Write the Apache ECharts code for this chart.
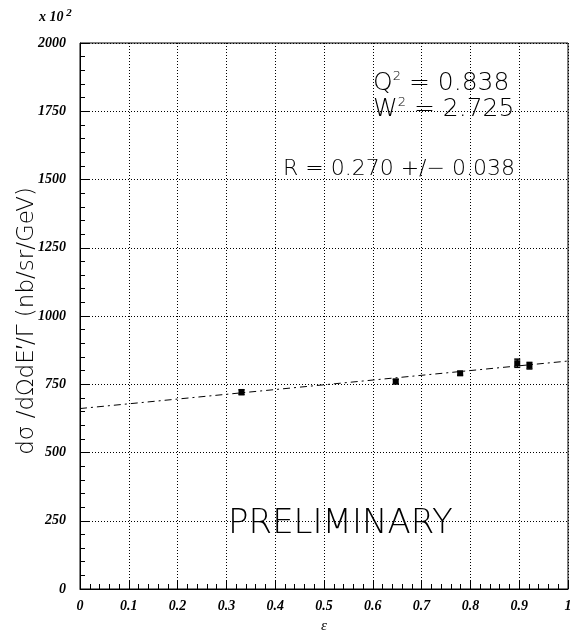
<!DOCTYPE html>
<html>
<head>
<meta charset="utf-8">
<script src="https://cdn.jsdelivr.net/npm/echarts@6/dist/echarts.min.js"></script>
<style>
  html, body { margin: 0; padding: 0; background: #fff; }
  #chart { width: 575px; height: 639px; }
</style>
</head>
<body>
<div id="chart"></div>
<script>
// measured points (epsilon, cross section in units of 10^2 nb/sr/GeV)
const epsilonValues = [0.331, 0.647, 0.779, 0.896, 0.921];
const sigmaValues = [721, 760, 790, 827, 818];
const sigmaErrors = [9, 8, 7, 15, 12];

// linear fit, read at both ends of the axis
const fitEpsilon = [0, 1];
const fitSigma = [661, 835];

const xTicks = [0, 0.1, 0.2, 0.3, 0.4, 0.5, 0.6, 0.7, 0.8, 0.9, 1];
const yTicks = [0, 250, 500, 750, 1000, 1250, 1500, 1750, 2000];

const LABEL_FONT = '"Liberation Serif", "DejaVu Serif", serif';
const THIN_FONT = '"DejaVu Sans", "Liberation Sans", sans-serif';

const points = epsilonValues.map((e, i) => [e, sigmaValues[i], sigmaErrors[i]]);
const fitLine = fitEpsilon.map((e, i) => [e, fitSigma[i]]);

const chart = echarts.init(document.getElementById('chart'), null, { renderer: 'canvas' });

const axisLabelStyle = {
  color: '#000',
  fontFamily: LABEL_FONT,
  fontStyle: 'italic',
  fontWeight: 'bold',
  fontSize: 14,
};

// thin annotation text with a superscript
function supText(base, sup, rest) {
  return {
    text: `{t|${base}}{s|${sup}}{t|${rest}}`,
    rich: {
      t: { fontFamily: THIN_FONT, fontWeight: 200, fontSize: 25, fill: '#000' },
      s: { fontFamily: THIN_FONT, fontWeight: 200, fontSize: 13, fill: '#000', padding: [0, 0, 14, 0] },
    },
  };
}

chart.setOption({
  animation: false,
  backgroundColor: '#fff',
  grid: {
    left: 80, right: 7, top: 43, bottom: 45,
    show: true, borderColor: '#000', borderWidth: 1, backgroundColor: 'transparent',
  },
  xAxis: {
    type: 'value',
    min: xTicks[0],
    max: xTicks[xTicks.length - 1],
    interval: 0.1,
    name: 'ε',
    nameLocation: 'middle',
    nameGap: 30,
    nameTextStyle: { color: '#000', fontFamily: LABEL_FONT, fontStyle: 'italic', fontSize: 15 },
    axisLine: { show: true, lineStyle: { color: '#000', width: 1 } },
    axisTick: { show: true, inside: true, length: 9, lineStyle: { color: '#000' } },
    minorTick: { show: true, splitNumber: 5, length: 5, lineStyle: { color: '#000' } },
    axisLabel: Object.assign({ margin: 10, formatter: (v) => String(Math.round(v * 10) / 10) }, axisLabelStyle),
    splitLine: { show: true, lineStyle: { color: '#000', type: [1, 2], width: 1 } },
  },
  yAxis: {
    type: 'value',
    min: yTicks[0],
    max: yTicks[yTicks.length - 1],
    interval: 250,
    axisLine: { show: true, lineStyle: { color: '#000', width: 1 } },
    axisTick: { show: true, inside: true, length: 9, lineStyle: { color: '#000' } },
    minorTick: { show: true, splitNumber: 5, length: 5, lineStyle: { color: '#000' } },
    axisLabel: Object.assign({ margin: 14, formatter: (v) => String(v) }, axisLabelStyle),
    splitLine: { show: true, lineStyle: { color: '#000', type: [1, 2], width: 1 } },
  },
  series: [
    {
      type: 'line',
      data: fitLine,
      symbol: 'none',
      silent: true,
      lineStyle: { color: '#000', width: 1, type: [7, 4, 2, 4] },
      z: 2,
    },
    {
      type: 'custom',
      data: points,
      z: 3,
      renderItem: (params, api) => {
        const x = api.value(0);
        const y = api.value(1);
        const err = api.value(2);
        const c = api.coord([x, y]);
        const top = api.coord([x, y + err]);
        const bottom = api.coord([x, y - err]);
        const pen = { stroke: '#000', lineWidth: 1.5 };
        return {
          type: 'group',
          children: [
            { type: 'line', shape: { x1: c[0], y1: top[1], x2: c[0], y2: bottom[1] }, style: pen },
            { type: 'line', shape: { x1: c[0] - 3, y1: top[1], x2: c[0] + 3, y2: top[1] }, style: pen },
            { type: 'line', shape: { x1: c[0] - 3, y1: bottom[1], x2: c[0] + 3, y2: bottom[1] }, style: pen },
            { type: 'rect', shape: { x: c[0] - 3, y: c[1] - 3, width: 6, height: 6 }, style: { fill: '#000' } },
          ],
        };
      },
    },
  ],
  graphic: [
    {
      type: 'text', left: 39, top: 8,
      style: {
        text: '{b|x 10}{s| 2}',
        rich: {
          b: { fontFamily: LABEL_FONT, fontStyle: 'italic', fontWeight: 'bold', fontSize: 14, fill: '#000' },
          s: { fontFamily: LABEL_FONT, fontStyle: 'italic', fontWeight: 'bold', fontSize: 11, fill: '#000', padding: [0, 0, 8, 0] },
        },
      },
    },
    {
      // y axis title, drawn rotated
      type: 'text', x: 27, y: 321, rotation: Math.PI / 2,
      style: {
        text: 'dσ /dΩdE′/Γ (nb/sr/GeV)',
        fontFamily: THIN_FONT, fontWeight: 200, fontSize: 23, fill: '#000',
        align: 'center', verticalAlign: 'middle',
      },
    },
    { type: 'text', left: 373, top: 70, style: supText('Q', '2', ' = 0.838') },
    { type: 'text', left: 373, top: 96, style: supText('W', '2', ' = 2.725') },
    {
      type: 'text', left: 283, top: 158,
      style: { text: 'R = 0.270 +/− 0.038', fontFamily: THIN_FONT, fontWeight: 200, fontSize: 22, fill: '#000' },
    },
    {
      type: 'text', left: 228, top: 507,
      style: { text: 'PRELIMINARY', fontFamily: THIN_FONT, fontWeight: 200, fontSize: 34, fill: '#000' },
    },
  ],
});
</script>
</body>
</html>
